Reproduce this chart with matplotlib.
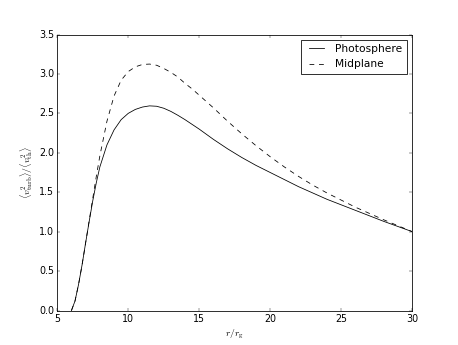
import numpy as np
import matplotlib
matplotlib.use('Agg')
import matplotlib.pyplot as plt

plt.style.use('classic')

r_phot = [6.0, 6.25, 6.5, 6.75, 7.0, 7.25, 7.5, 7.75, 8.0, 8.5, 9.0, 9.5, 10.0,
          10.5, 11.0, 11.5, 12.0, 12.5, 13.0, 13.5, 14.0, 14.5, 15.0, 16.0,
          17.0, 18.0, 19.0, 20.0, 21.0, 22.0, 23.0, 24.0, 25.0, 26.0, 27.0,
          28.0, 29.0, 30.0]
v_phot = [0.00, 0.12, 0.33, 0.58, 0.86, 1.13, 1.39, 1.62, 1.82, 2.10, 2.29, 2.42, 2.50,
          2.55, 2.58, 2.595, 2.59, 2.565, 2.525, 2.475, 2.42, 2.36, 2.30, 2.17,
          2.05, 1.94, 1.84, 1.75, 1.66, 1.57, 1.49, 1.41, 1.34, 1.27, 1.20,
          1.13, 1.065, 1.00]

r_mid = r_phot
v_mid = [0.00, 0.12, 0.33, 0.58, 0.86, 1.14, 1.42, 1.70, 1.96, 2.40, 2.72, 2.92, 3.03,
         3.09, 3.12, 3.125, 3.11, 3.07, 3.02, 2.96, 2.88, 2.81, 2.73, 2.57,
         2.40, 2.24, 2.09, 1.95, 1.82, 1.70, 1.59, 1.49, 1.40, 1.31, 1.23,
         1.15, 1.075, 1.00]

fig = plt.figure(figsize=(8, 345 / 57.25), dpi=57.25, facecolor='white')
ax = fig.add_subplot(111)

ax.plot(r_phot, v_phot, 'k-', label='Photosphere')
ax.plot(r_mid, v_mid, 'k--', label='Midplane')

ax.set_xlim(5, 30)
ax.set_ylim(0, 3.5)
ax.set_xlabel(r'$r/r_{\rm g}$')
ax.set_ylabel(r'$\langle v_{\rm turb}^2\rangle/\langle v_{\rm th}^2\rangle$')
ax.legend(loc='upper right', fontsize=13.4)

fig.savefig('out.png', dpi=57.25, facecolor='white')
